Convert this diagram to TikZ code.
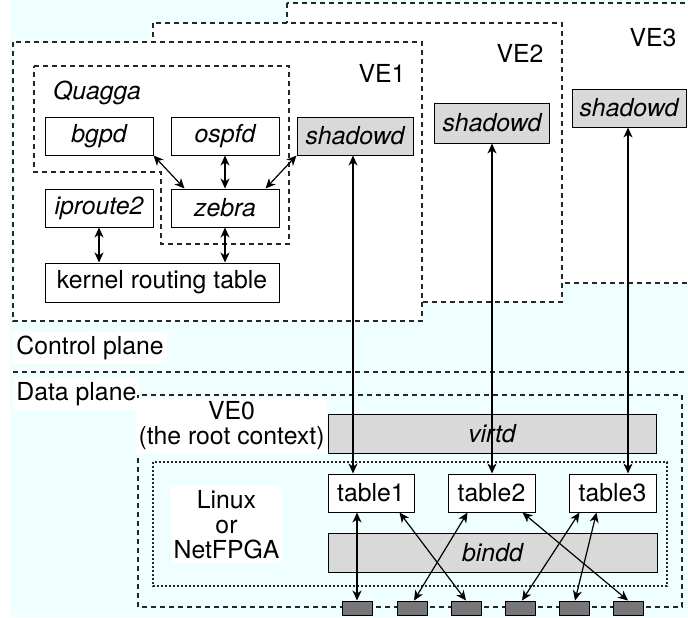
\documentclass[tikz,border=0pt]{standalone}
\usepackage{fontspec}
\setmainfont{TeX Gyre Heros}
\usetikzlibrary{arrows.meta, positioning}
\tikzset{>={Stealth[length=5pt,width=4.5pt,inset=1.5pt]}}
\definecolor{planebg}{HTML}{EFFFFF}
\definecolor{procgray}{HTML}{D9D9D9}
\definecolor{portgray}{HTML}{777777}
\newcommand{\diagfont}{\fontsize{12.4}{12.5}\selectfont}
\tikzset{
  box/.style={draw, line width=0.5pt, minimum height=19pt, inner sep=0pt, fill=white},
  proc/.style={box, font=\diagfont\itshape},
  shadowbox/.style={proc, fill=procgray},
  vebox/.style={draw=black!85, dash pattern=on 2.5pt off 2pt, line width=0.7pt},
  finebox/.style={draw=black!85, dash pattern=on 1.2pt off 0.8pt, line width=0.6pt},
  port/.style={draw, line width=0.5pt, fill=portgray, minimum width=15pt, minimum height=7pt, inner sep=0pt},
  lbl/.style={fill=white, inner ysep=2pt, inner xsep=1.5pt},
  link/.style={<->, line width=0.6pt}
}

\begin{document}
\begin{tikzpicture}[x=0.5pt, y=-0.5pt, font=\diagfont]
\useasboundingbox (0,0) rectangle (688,617);
\fill[planebg] (10,0) rectangle (688,617);

% virtual environments, back to front
\draw[vebox, fill=white] (287,3) rectangle (692,283);
\draw[vebox, fill=white] (153,23) rectangle (562,302);
\draw[vebox, fill=white] (13,42) rectangle (422,321);
\node (ve1) at (382,73) {VE1};
\node (ve2) at (520,53) {VE2};
\node (ve3) at (653,38) {VE3};

% control / data plane
\draw[vebox] (13,372) -- (688,372);
\node[lbl, anchor=west, minimum height=13.5pt] (cplane) at (13,348) {Control plane};
\node[lbl, anchor=west, minimum height=12.5pt] (dplane) at (13,394) {Data plane};
\draw[vebox] (138,395) rectangle (682,607);
\draw[finebox] (153,462) rectangle (667,586);
\node[lbl, align=center, minimum width=91.5pt, minimum height=26pt] (ve0) at (231.5,426) {VE0\\(the root context)};
\node[lbl, align=center, minimum width=50.5pt, minimum height=38.5pt] (linux) at (226.5,524.5) {Linux\\or\\NetFPGA};

% quagga
\draw[vebox] (34,66) -- (289,66) -- (289,244) -- (161,244) -- (161,172) -- (34,172) -- cycle;
\node[anchor=west, font=\diagfont\itshape] (quagga) at (46,93) {Quagga};

\node[proc, minimum width=54pt] (bgpd) at (99,136) {bgpd};
\node[proc, minimum width=54pt] (ospfd) at (225,136) {ospfd};
\node[shadowbox, minimum width=58pt] (shadow1) at (355,136) {shadowd};
\node[proc, minimum width=54pt] (iproute) at (99,208) {iproute2};
\node[proc, minimum width=54pt] (zebra) at (225,208) {zebra};
\node[box, minimum width=117pt, minimum height=19.5pt] (kernel) at (162,282.5) {kernel routing table};
\node[shadowbox, minimum width=57.5pt, minimum height=20pt] (shadow2) at (492,123) {shadowd};
\node[shadowbox, minimum width=57pt] (shadow3) at (629,108) {shadowd};

% data plane boxes
\node[shadowbox, minimum width=164pt, minimum height=19.5pt] (virtd) at (492,433.5) {virtd};
\node[box, minimum width=43pt] (table1) at (371,493) {table1};
\node[box, minimum width=43.5pt] (table2) at (491.5,493) {table2};
\node[box, minimum width=43.5pt] (table3) at (612.5,493) {table3};
\node[shadowbox, minimum width=164.5pt, minimum height=19.5pt] (bindd) at (492.5,552.5) {bindd};
\foreach \i/\x in {1/357,2/412,3/466,4/520,5/574,6/628}
  \node[port] (port\i) at (\x,608) {};

% control plane links
\draw[link] (bgpd.south east) -- ([xshift=7pt]zebra.north west);
\draw[link] (ospfd) -- (zebra);
\draw[link] (shadow1.south west) -- ([xshift=-7pt]zebra.north east);
\draw[link] (iproute) -- (iproute |- kernel.north);
\draw[link] (zebra) -- (zebra |- kernel.north);

% shadowd to tables
\draw[link] ([xshift=-1pt]shadow1.south) -- ([xshift=-1pt]shadow1.south |- table1.north);
\draw[link] (shadow2.south) -- (shadow2.south |- table2.north);
\draw[link] ([xshift=-0.5pt]shadow3.south) -- ([xshift=-0.5pt]shadow3.south |- table3.north);

% tables to ports
\draw[link] (port1.north |- table1.south) -- (port1.north);
\draw[link] ([xshift=-7.5pt]table1.south east) -- (port3.north);
\draw[link] ([xshift=10pt]table2.south west) -- ([xshift=1pt]port2.north);
\draw[link] ([xshift=-6.5pt]table2.south east) -- (port6.north);
\draw[link] ([xshift=5.5pt]table3.south west) -- ([xshift=1pt]port4.north);
\draw[link] ([xshift=14pt]table3.south west) -- ([xshift=0.5pt]port5.north);
\end{tikzpicture}
\end{document}
